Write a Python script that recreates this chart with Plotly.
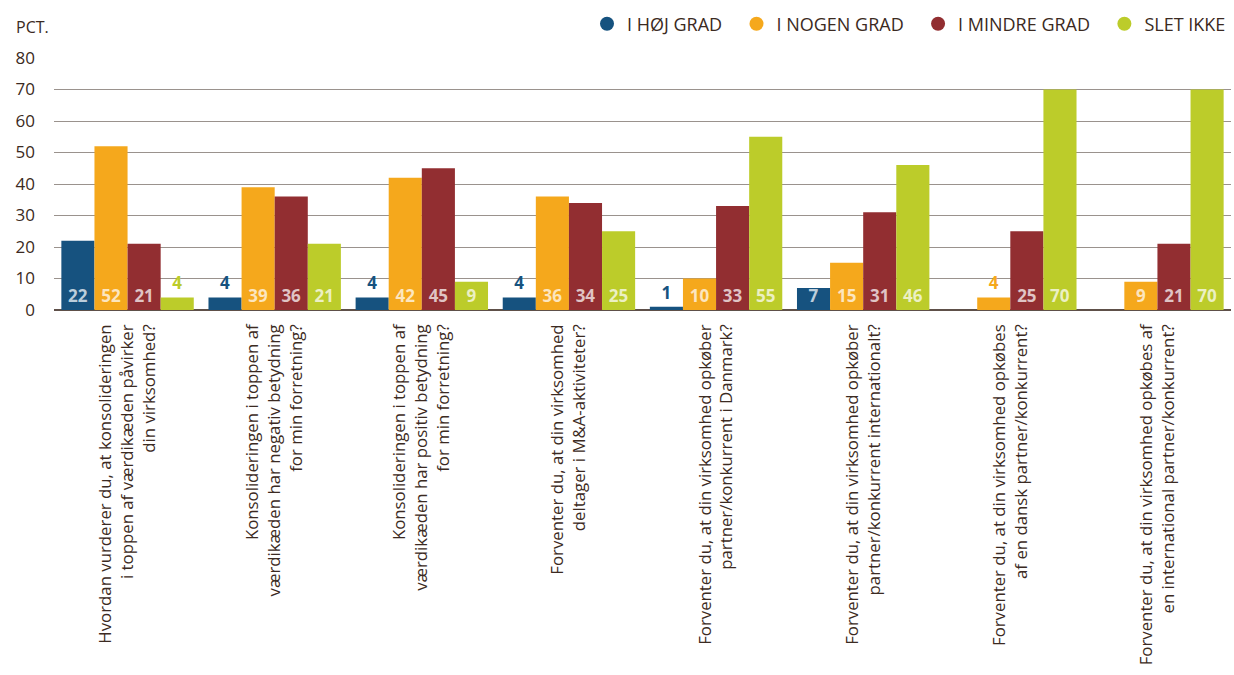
import plotly.graph_objects as go

# Survey questions (x-axis categories)
categories = [
    "Hvordan vurderer du, at konsolideringen<br>i toppen af værdikæden påvirker<br>din virksomhed?",
    "Konsolideringen i toppen af<br>værdikæden har negativ betydning<br>for min forretning?",
    "Konsolideringen i toppen af<br>værdikæden har positiv betydning<br>for min forretning?",
    "Forventer du, at din virksomhed<br>deltager i M&amp;A-aktiviteter?",
    "Forventer du, at din virksomhed opkøber<br>partner/konkurrent i Danmark?",
    "Forventer du, at din virksomhed opkøber<br>partner/konkurrent internationalt?",
    "Forventer du, at din virksomhed opkøbes<br>af en dansk partner/konkurrent?",
    "Forventer du, at din virksomhed opkøbes af<br>en international partner/konkurrent?",
]

# Share of answers (pct.) per response option
i_hoej_grad = [22, 4, 4, 4, 1, 7, None, None]
i_nogen_grad = [52, 39, 42, 36, 10, 15, 4, 9]
i_mindre_grad = [21, 36, 45, 34, 33, 31, 25, 21]
slet_ikke = [4, 21, 9, 25, 55, 46, 70, 70]

series_names = ["I HØJ GRAD", "I NOGEN GRAD", "I MINDRE GRAD", "SLET IKKE"]
series_values = [i_hoej_grad, i_nogen_grad, i_mindre_grad, slet_ikke]
series_colors = ["#16527f", "#f5a81c", "#922e31", "#bccc2a"]

y_ticks = [0, 10, 20, 30, 40, 50, 60, 70, 80]

TEXT_COLOR = "#3b2a22"
INSIDE_LABEL = "rgba(255,255,255,0.72)"
FONT = "Open Sans"

fig = go.Figure()
for name, vals, color in zip(series_names, series_values, series_colors):
    texts, positions, colors = [], [], []
    for v in vals:
        if v is None:
            texts.append("")
            positions.append("none")
            colors.append(color)
        elif v >= 7:
            texts.append(str(v))
            positions.append("inside")
            colors.append(INSIDE_LABEL)
        else:
            texts.append(str(v))
            positions.append("outside")
            colors.append(color)
    fig.add_trace(go.Bar(
        name=name,
        x=categories,
        y=vals,
        marker=dict(color=color, line=dict(width=0)),
        text=texts,
        textposition=positions,
        insidetextanchor="start",
        textangle=0,
        textfont=dict(family=FONT, size=17, color=colors, weight="bold"),
        cliponaxis=False,
        hoverinfo="skip",
        showlegend=False,
    ))

# Round legend markers; a little trailing space widens the gap between entries
for i, (name, color) in enumerate(zip(series_names, series_colors)):
    pad = "\u00a0\u00a0" if i < len(series_names) - 1 else ""
    fig.add_trace(go.Scatter(
        name=name + pad, x=[None], y=[None], mode="markers",
        marker=dict(symbol="circle", size=14, color=color),
        hoverinfo="skip",
    ))

fig.update_layout(
    width=1234,
    height=675,
    barmode="group",
    bargap=0.1,
    bargroupgap=0,
    plot_bgcolor="white",
    paper_bgcolor="white",
    margin=dict(l=54, r=3, t=58, b=365, autoexpand=False),
    font=dict(family=FONT, color=TEXT_COLOR),
    uniformtext=dict(minsize=17, mode="show"),
    legend=dict(
        orientation="h",
        x=1.0, xanchor="right",
        y=1 - 24 / 675, yref="container", yanchor="middle",
        font=dict(family=FONT, size=18, color=TEXT_COLOR),
        traceorder="normal",
        itemwidth=30,
        bgcolor="rgba(0,0,0,0)",
    ),
    annotations=[dict(
        text="PCT.", xref="paper", yref="paper", x=0, y=1, xanchor="left", yanchor="bottom",
        xshift=-40, yshift=18, showarrow=False,
        font=dict(family=FONT, size=16, color=TEXT_COLOR),
    )],
)

fig.update_xaxes(
    tickangle=-90,
    tickfont=dict(family=FONT, size=16.8, color=TEXT_COLOR),
    showgrid=False,
    showline=False,
    ticks="",
    ticklabelstandoff=10,
    automargin=False,
)
fig.update_yaxes(
    range=[0, 80],
    tickvals=y_ticks,
    tickfont=dict(family=FONT, size=17, color=TEXT_COLOR),
    showgrid=True,
    gridcolor="#9a928d",
    gridwidth=1,
    zeroline=True,
    zerolinecolor="#5e5049",
    zerolinewidth=2,
    ticklabelstandoff=18,
    automargin=False,
)

fig.write_html("out.html")
